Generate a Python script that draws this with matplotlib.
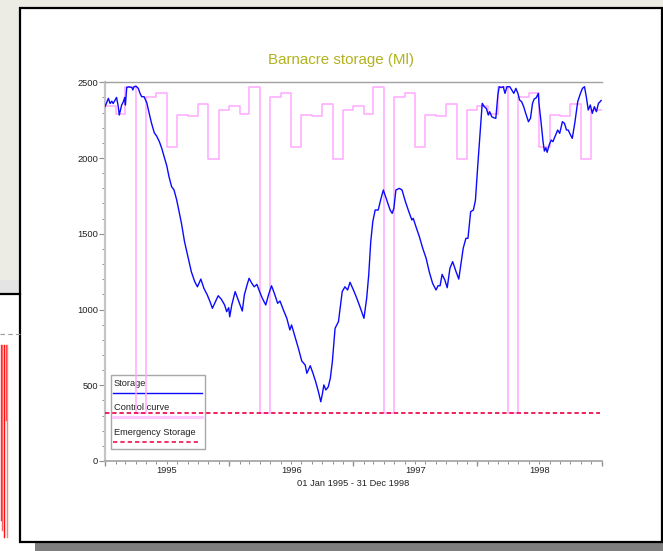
import numpy as np
import matplotlib
matplotlib.use('Agg')
import matplotlib.pyplot as plt
import matplotlib.dates as mdates
from matplotlib.patches import Rectangle
from matplotlib.ticker import MultipleLocator, NullFormatter

plt.rcParams['font.family'] = ['Liberation Sans', 'DejaVu Sans']

# ---------------- data ----------------
title = 'Barnacre storage (Ml)'
xlabel = '01 Jan 1995 - 31 Dec 1998'
year_labels = ['1995', '1996', '1997', '1998']
year_label_dates = ['1995-07-02', '1996-07-02', '1997-07-02', '1998-07-02']
start_date = '1995-01-01'
end_date = '1999-01-01'

legend_labels = ['Storage', 'Control curve', 'Emergency Storage']

# storage: days since 01 Jan 1995, storage in Ml
storage_day = [0, 3, 10, 15, 20, 24, 29, 34, 39, 42, 49, 54, 58, 60, 64, 69, 79, 82, 85, 91,
               98, 103, 108, 115, 123, 130, 137, 145, 152, 160, 167, 174, 182, 188, 196, 203, 211, 215, 225, 234,
               244, 254, 264, 272, 282, 291, 301, 309, 316, 325, 333, 342, 352, 358, 364, 367, 373, 383, 392, 404,
               410, 418, 424, 432, 439, 447, 455, 463, 473, 481, 490, 500, 508, 515, 525, 535, 544, 549, 559, 569,
               579, 589, 594, 604, 612, 620, 628, 635, 640, 644, 650, 657, 663, 669, 677, 687, 692, 698, 706, 714,
               721, 731, 741, 750, 762, 770, 776, 782, 788, 795, 804, 811, 819, 829, 839, 845, 850, 856, 866, 874,
               884, 894, 903, 907, 915, 925, 935, 945, 954, 964, 974, 980, 986, 992, 1000, 1007, 1015, 1023, 1033, 1041,
               1047, 1054, 1062, 1068, 1076, 1084, 1090, 1097, 1104, 1110, 1116, 1122, 1128, 1132, 1138, 1144, 1150, 1156, 1160, 1166,
               1172, 1177, 1183, 1191, 1197, 1203, 1209, 1215, 1220, 1226, 1232, 1238, 1246, 1252, 1258, 1263, 1269, 1275, 1277, 1283,
               1289, 1293, 1297, 1301, 1307, 1313, 1318, 1324, 1332, 1338, 1346, 1352, 1358, 1363, 1369, 1375, 1383, 1391, 1399, 1405,
               1411, 1417, 1422, 1428, 1434, 1440, 1446, 1452, 1457, 1460]
storage_ml = [2340, 2355, 2394, 2360, 2375, 2360, 2380, 2400, 2340, 2284, 2350, 2372, 2400, 2350, 2466, 2470, 2466, 2450, 2470, 2475,
              2460, 2427, 2405, 2405, 2365, 2295, 2229, 2167, 2145, 2108, 2064, 2009, 1947, 1880, 1811, 1790, 1723, 1679, 1569, 1448,
              1349, 1250, 1184, 1150, 1201, 1140, 1096, 1052, 1008, 1052, 1091, 1069, 1030, 986, 1012, 952, 1030, 1118, 1063, 990,
              1096, 1162, 1206, 1173, 1150, 1166, 1118, 1074, 1030, 1096, 1157, 1096, 1041, 1056, 997, 942, 865, 898, 820, 744,
              660, 634, 579, 629, 579, 523, 457, 391, 447, 502, 469, 490, 546, 655, 876, 920, 1008, 1118, 1150, 1129,
              1180, 1129, 1074, 1019, 942, 1074, 1228, 1448, 1580, 1657, 1657, 1723, 1789, 1723, 1657, 1635, 1668, 1789, 1800, 1789,
              1712, 1646, 1591, 1602, 1547, 1481, 1404, 1338, 1250, 1173, 1129, 1157, 1157, 1232, 1195, 1144, 1272, 1316, 1250, 1201,
              1294, 1404, 1470, 1470, 1646, 1657, 1720, 1954, 2174, 2361, 2339, 2328, 2284, 2306, 2273, 2266, 2262, 2416, 2471, 2465,
              2471, 2427, 2471, 2471, 2449, 2427, 2460, 2427, 2383, 2372, 2339, 2295, 2240, 2262, 2361, 2390, 2398, 2427, 2361, 2240,
              2108, 2046, 2068, 2038, 2086, 2119, 2108, 2141, 2185, 2163, 2240, 2229, 2185, 2185, 2156, 2130, 2240, 2372, 2427, 2460,
              2471, 2394, 2317, 2350, 2295, 2339, 2306, 2361, 2372, 2380]

# control curve: monthly values Jan 1995 .. Dec 1998 (Ml)
control_ml = [2345, 2290, 2472, 315, 2405, 2427, 2072, 2284, 2279, 2355, 1991, 2314,
              2345, 2290, 2472, 315, 2405, 2427, 2072, 2284, 2279, 2355, 1991, 2314,
              2345, 2290, 2472, 315, 2405, 2427, 2072, 2284, 2279, 2355, 1991, 2314,
              2345, 2290, 2472, 315, 2405, 2427, 2072, 2284, 2279, 2355, 1991, 2314]

emergency_ml = 315

# ---------------- figure ----------------
W, H = 663, 551
fig = plt.figure(figsize=(W / 100, H / 100), dpi=100)
fig.patch.set_facecolor('#ececE4')

# background / screenshot frame in pixel coordinates
bg = fig.add_axes([0, 0, 1, 1])
bg.set_xlim(0, W)
bg.set_ylim(H, 0)
bg.axis('off')
bg.set_zorder(0)
bg.add_patch(Rectangle((0, 280), 20, 14, facecolor='#e4e4e4', edgecolor='none'))
bg.add_patch(Rectangle((0, 294), 20, H - 294, facecolor='white', edgecolor='none'))
bg.plot([0, 20], [294, 294], color='black', lw=1.6)
bg.plot([0, 20], [334, 334], color='#9a9a9a', lw=0.8, ls=(0, (4, 3)))
for xx, y0, y1, c in [(0.8, 345, 520, '#ff2020'), (2.0, 345, 530, '#ff6060'),
                      (4.0, 345, 537, '#ff1010'), (5.5, 345, 420, '#ff4040'),
                      (7.0, 345, 537, '#ff8080')]:
    bg.plot([xx, xx], [y0, y1], color=c, lw=1.0)
# shadow
bg.add_patch(Rectangle((35, 543), W - 35, H - 543, facecolor='#7f7f7f', edgecolor='none'))
bg.add_patch(Rectangle((0, 543), 35, H - 543, facecolor='white', edgecolor='none'))
# window
bg.add_patch(Rectangle((19.5, 7.5), W - 19.5 - 1.5, 534.5, facecolor='white',
                       edgecolor='black', lw=1.6))

# title
bg.text(340.5, 60, title, color='#b2b21e', fontsize=10.9, ha='center', va='center')

# legend (drawn behind data lines)
bg.add_patch(Rectangle((110.7, 375), 94.6, 74.3, facecolor='none', edgecolor='#a8a8a8', lw=1.0))
bg.text(113.5, 384, legend_labels[0], fontsize=6.7, color='#222222', ha='left', va='center')
bg.plot([113.3, 202.3], [393.3, 393.3], color='#0a0aff', lw=1.0)
bg.text(113.5, 407.7, legend_labels[1], fontsize=6.7, color='#222222', ha='left', va='center')
bg.plot([113.3, 202.3], [417.3, 417.3], color='#ffc8ff', lw=2.2)
bg.text(113.5, 432.7, legend_labels[2], fontsize=6.7, color='#222222', ha='left', va='center')
bg.plot([113.3, 200.5], [441.7, 441.7], color='#f0104f', lw=1.2, ls=(0, (2.6, 1.8)))

# main axes
ax = fig.add_axes([105 / W, 90 / H, 496.5 / W, 378.7 / H])
ax.set_zorder(1)
ax.set_facecolor('none')

base = np.datetime64(start_date)
storage_dates = base + np.array(storage_day).astype('timedelta64[D]')
month_starts = np.arange(np.datetime64('1995-01'), np.datetime64('1999-02'),
                         dtype='datetime64[M]').astype('datetime64[D]')
ctrl_vals = control_ml + [control_ml[-1]]

ax.step(month_starts, ctrl_vals, where='post', color='#ffaaff', lw=1.1, zorder=3)
ax.plot([np.datetime64(start_date), np.datetime64('1998-12-28')], [emergency_ml, emergency_ml],
        color='#f0104f', lw=1.3, ls=(0, (2.4, 1.6)), zorder=4)
ax.plot(storage_dates, storage_ml, color='#0a0aff', lw=1.0, zorder=5)

ax.set_xlim(np.datetime64(start_date), np.datetime64(end_date))
ax.set_ylim(0, 2500)

ax.spines['right'].set_visible(False)
ax.spines['left'].set_color('#c4c4c4')
ax.spines['left'].set_linewidth(1.6)
ax.spines['top'].set_color('#a0a0a0')
ax.spines['top'].set_linewidth(1.0)
ax.spines['bottom'].set_color('#a8a8a8')
ax.spines['bottom'].set_linewidth(1.3)

ax.xaxis.set_major_locator(mdates.YearLocator())
ax.xaxis.set_minor_locator(mdates.MonthLocator())
ax.xaxis.set_major_formatter(NullFormatter())
ax.yaxis.set_major_locator(MultipleLocator(500))
ax.yaxis.set_minor_locator(MultipleLocator(100))

ax.tick_params(axis='y', which='major', direction='out', length=4.3, width=0.8,
               color='#909090', labelsize=6.7, labelcolor='#222222', pad=0.6)
ax.tick_params(axis='y', which='minor', direction='out', length=2.0, width=0.7, color='#909090')
ax.tick_params(axis='x', which='major', direction='out', length=3.8, width=1.0, color='#909090')
ax.tick_params(axis='x', which='minor', direction='out', length=2.0, width=0.7, color='#909090')
ax.tick_params(top=False, right=False, which='both')

xtrans = ax.get_xaxis_transform()
for d, lab in zip(year_label_dates, year_labels):
    ax.text(np.datetime64(d), -0.025, lab, transform=xtrans, ha='center', va='center',
            fontsize=6.7, color='#222222')
ax.text(0.5, -(483.3 - 461) / 378.7, xlabel, transform=ax.transAxes, ha='center', va='center',
        fontsize=6.7, color='#222222')

fig.savefig('out.png', dpi=100, facecolor=fig.get_facecolor())
